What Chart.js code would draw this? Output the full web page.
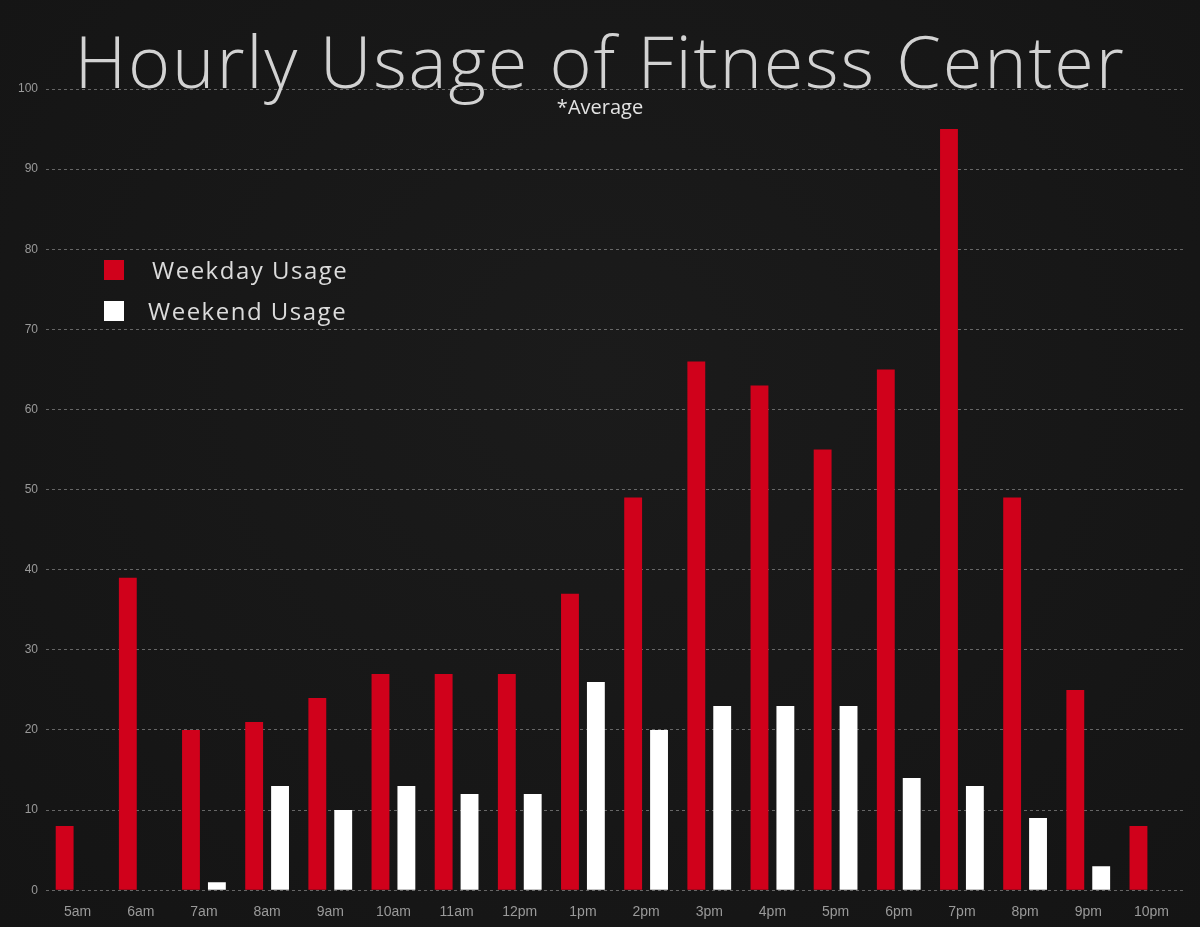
<!DOCTYPE html>
<html>
<head>
<meta charset="utf-8">
<script src="https://cdn.jsdelivr.net/npm/chart.js@4"></script>
<style>
  html, body { margin: 0; padding: 0; background: #161616; }
  #wrap { position: relative; width: 1200px; height: 927px; background: radial-gradient(ellipse at 50% 40%, #1b1b1b 0%, #141414 100%); overflow: hidden; }
  #title { position: absolute; left: 0; width: 1200px; top: 15px; text-align: center; color: #d2d2d2; font-family: "Open Sans", sans-serif; font-weight: 300; font-size: 72px; line-height: 90px; letter-spacing: 1.8px; }
  #sub { position: absolute; left: 0; width: 1200px; top: 93px; text-align: center; color: #e2e2e2; font-family: "Open Sans", sans-serif; font-size: 20px; }
  #legend { position: absolute; left: 104px; top: 249px; font-family: "Open Sans", sans-serif; font-size: 24px; letter-spacing: 1.5px; color: #dcdcdc; }
  #legend div { height: 41px; display: flex; align-items: center; }
  #legend span.box { display: inline-block; width: 20px; height: 20px; margin-right: 28px; }
  #legend div:nth-child(2) span.box { margin-right: 24px; }
</style>
</head>
<body>
<div id="wrap">
  <canvas id="usageChart" width="1200" height="927"></canvas>
  <div id="title">Hourly Usage of Fitness Center</div>
  <div id="sub">*Average</div>
  <div id="legend"></div>
</div>
<script>
    const hours = ['5am', '6am', '7am', '8am', '9am', '10am', '11am', '12pm', '1pm', '2pm', '3pm', '4pm', '5pm', '6pm', '7pm', '8pm', '9pm', '10pm'];
    const weekdayUsage = [8, 39, 20, 21, 24, 27, 27, 27, 37, 49, 66, 63, 55, 65, 95, 49, 25, 8];
    const weekendUsage = [0, 0, 1, 13, 10, 13, 12, 12, 26, 20, 23, 23, 23, 14, 13, 9, 3, 0];
    const yTicks = [0, 10, 20, 30, 40, 50, 60, 70, 80, 90, 100];

    const RED = '#d0011b';
    const WHITE = '#ffffff';

    const ctx = document.getElementById('usageChart').getContext('2d');
    const usageChart = new Chart(ctx, {
        type: 'bar',
        data: {
            labels: hours,
            datasets: [
                { label: 'Weekday Usage', data: weekdayUsage, backgroundColor: RED, barPercentage: 0.69, categoryPercentage: 0.82 },
                { label: 'Weekend Usage', data: weekendUsage, backgroundColor: WHITE, barPercentage: 0.69, categoryPercentage: 0.82 }
            ]
        },
        options: {
            responsive: false,
            animation: false,
            layout: { padding: { top: 89, right: 17, left: 10, bottom: 0 } },
            plugins: { legend: { display: false }, tooltip: { enabled: false } },
            scales: {
                x: {
                    grid: { display: false },
                    border: { display: false },
                    ticks: { color: '#9a9a9a', font: { family: 'Liberation Sans', size: 14 }, padding: 6 }
                },
                y: {
                    min: 0, max: 100,
                    afterBuildTicks: (axis) => { axis.ticks = yTicks.map(v => ({ value: v })); },
                    grid: { color: 'rgba(170,170,170,0.55)', drawTicks: false, lineWidth: 1 },
                    border: { display: false, dash: [3, 3] },
                    ticks: { color: '#9a9a9a', font: { family: 'Liberation Sans', size: 12 }, padding: 8 }
                }
            }
        }
    });

    // legend as html, built from the datasets
    const legendEl = document.getElementById('legend');
    usageChart.data.datasets.forEach(ds => {
        const row = document.createElement('div');
        const box = document.createElement('span');
        box.className = 'box';
        box.style.background = ds.backgroundColor;
        row.appendChild(box);
        row.appendChild(document.createTextNode(ds.label));
        legendEl.appendChild(row);
    });
</script>
</body>
</html>
